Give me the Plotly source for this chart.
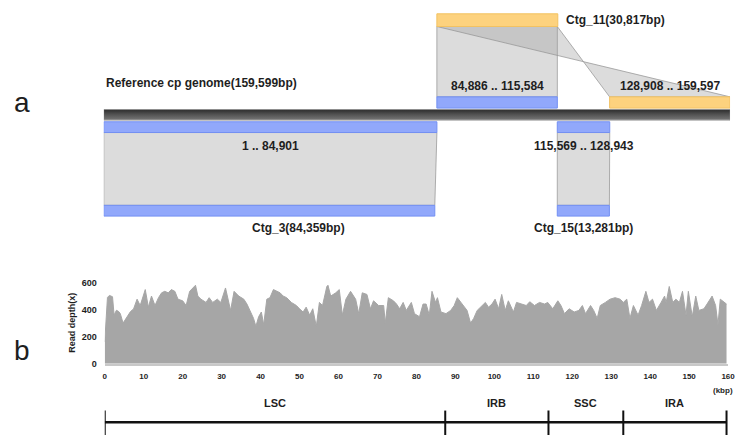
import plotly.graph_objects as go

# ---------------- data ----------------
GENOME_LEN = 159599
GENOME_LABEL = "Reference cp genome(159,599bp)"

contig_names = ["Ctg_3", "Ctg_11", "Ctg_15"]
contig_lengths = [84359, 30817, 13281]
contig_anchor = [1, 84886, 115569]          # reference position where the contig is drawn
contig_side = ["below", "above", "below"]

aln_contig = [0, 1, 1, 2]                    # index into contig lists
aln_ref_start = [1, 84886, 128908, 115569]
aln_ref_end = [84901, 115584, 159597, 128943]
aln_q_start = [1, 1, 1, 1]
aln_q_end = [84359, 30699, 30690, 13281]
aln_strand = ["+", "+", "-", "+"]

depth_kbp = [0, 0.3, 0.7, 1.2, 2.0, 2.4, 3.0, 3.6, 4.0, 4.7, 5.7, 6.6, 7.4, 8.3, 9.1, 10.4, 11.2, 12.0,
             12.9, 13.8, 14.6, 15.4, 16.3, 17.1, 18.0, 18.8, 20.0, 20.9, 21.8, 23.0, 23.3, 23.9, 24.7,
             26.0, 26.8, 27.7, 28.9, 29.8, 31.0, 32.3, 33.2, 34.4, 35.7, 36.5, 37.4, 38.2, 38.8, 39.5,
             40.2, 40.8, 41.6, 42.4, 43.3, 44.1, 45.0, 45.8, 46.7, 47.9, 49.2, 50.0, 50.9, 51.7, 52.6,
             53.4, 54.3, 55.1, 55.9, 57.0, 57.3, 58.0, 59.3, 60.2, 61.0, 61.9, 63.1, 64.4, 65.2, 66.1,
             67.3, 68.2, 69.0, 70.3, 71.6, 72.0, 72.8, 74.1, 74.9, 75.7, 76.6, 77.4, 78.7, 79.5, 80.8,
             81.7, 82.5, 83.3, 84.0, 84.9, 85.4, 86.3, 87.6, 88.8, 89.7, 90.5, 91.4, 92.2, 93.0, 93.9,
             94.7, 95.6, 96.8, 97.7, 98.5, 99.4, 100.2, 101.1, 101.9, 102.8, 103.6, 104.9, 105.7, 107.0,
             108.2, 109.1, 110.3, 111.6, 112.9, 113.7, 115.0, 116.3, 117.1, 118.0, 119.2, 120.5, 121.7,
             122.6, 123.4, 124.7, 125.5, 126.4, 127.2, 128.5, 129.7, 131.0, 132.3, 133.1, 134.0, 134.8,
             135.7, 136.9, 137.8, 138.9, 139.7, 140.6, 141.6, 142.8, 143.7, 144.1, 144.9, 145.8, 146.6,
             147.5, 148.3, 149.2, 149.8, 150.8, 151.7, 152.5, 153.8, 154.6, 155.9, 156.8, 157.4, 158.0,
             158.9, 159.6]
depth_x = [160, 290, 490, 505, 495, 360, 395, 385, 370, 300, 345, 385, 405, 477, 430, 548, 418, 500,
           430, 488, 524, 535, 524, 548, 535, 477, 465, 430, 535, 570, 580, 500, 477,
           453, 488, 453, 477, 453, 560, 394, 535, 500, 477, 441, 382, 335, 276, 347,
           382, 288, 477, 488, 548, 535, 524, 500, 488, 453, 430, 406, 382, 418, 359,
           406, 276, 453, 430, 570, 580, 500, 524, 548, 359, 477, 535, 477, 370, 524,
           512, 406, 465, 430, 430, 300, 488, 465, 441, 406, 453, 394, 453, 370, 347,
           441, 441, 359, 535, 453, 488, 382, 370, 394, 430, 488, 453, 430, 394, 300,
           335, 394, 430, 453, 418, 441, 477, 406, 512, 394, 465, 382, 453, 441,
           430, 458, 430, 453, 441, 453, 406, 465, 430, 370, 406, 382, 394,
           430, 370, 430, 394, 335, 430, 453, 477, 488, 477, 453, 477, 335,
           430, 359, 430, 535, 453, 477, 394, 453, 500, 453, 571, 453, 477,
           453, 535, 359, 535, 347, 500, 394, 406, 441, 500, 430, 288, 477,
           453, 441]

x_ticks = [0, 10, 20, 30, 40, 50, 60, 70, 80, 90, 100, 110, 120, 130, 140, 150, 160]
y_ticks = [0, 200, 400, 600]

region_names = ["LSC", "IRB", "SSC", "IRA"]
region_bounds_kbp = [0, 87.4, 113.9, 133.1, 159.6]

# ---------------- layout constants (pixel rows, colours) ----------------
W, H = 742, 440
FONT = "Liberation Sans, Arial, sans-serif"
TXT = "#1e1e1e"
BLUE, BLUE_EDGE = "#91a8fb", "#7390f2"
ORANGE, ORANGE_EDGE = "#fdd27e", "#f2c262"
LINK_FILL, LINK_EDGE = "rgba(160,160,160,0.37)", "rgba(150,150,150,0.75)"
LABEL_SIZE = 12

REF_ROW = (107, 118)
ROWS = {
    "above": dict(contig=(9, 22), aln=(94, 105.5), label_aln=83, label_ctg=15),
    "below": dict(contig=(205, 216), aln=(119.5, 130.5), label_aln=144, label_ctg=228),
}
CTG_LABEL_XSHIFT = {"Ctg_3": 29}


def px(x):
    return x / W


def py(y):
    return 1 - y / H


fig = go.Figure()
shapes = []
annotations = []

# contig colour: orange if any reverse alignment
contig_has_rev = [any(aln_strand[i] == "-" for i in range(len(aln_contig)) if aln_contig[i] == c)
                  for c in range(len(contig_names))]

# ---- links (gray polygons) ----
for i in range(len(aln_contig)):
    c = aln_contig[i]
    side = contig_side[c]
    rows = ROWS[side]
    cA = contig_anchor[c] + aln_q_start[i] - 1
    cB = contig_anchor[c] + aln_q_end[i] - 1
    rS, rE = aln_ref_start[i], aln_ref_end[i]
    if side == "above":
        y_ctg, y_ref = rows["contig"][1], rows["aln"][0]
    else:
        y_ctg, y_ref = rows["contig"][0], rows["aln"][1]
    if aln_strand[i] == "+":
        xs = [cA, cB, rE, rS, cA]
    else:
        xs = [cA, cB, rS, rE, cA]
    ys = [y_ctg, y_ctg, y_ref, y_ref, y_ctg]
    fig.add_trace(go.Scatter(x=xs, y=ys, mode="lines", fill="toself", fillcolor=LINK_FILL,
                             line=dict(color=LINK_EDGE, width=1), hoverinfo="skip",
                             showlegend=False, xaxis="x", yaxis="y"))

# ---- reference bar ----
fig.add_trace(go.Scatter(
    x=[0, GENOME_LEN, GENOME_LEN, 0, 0],
    y=[REF_ROW[0], REF_ROW[0], REF_ROW[1], REF_ROW[1], REF_ROW[0]],
    mode="lines", fill="toself",
    fillgradient=dict(type="vertical",
                      colorscale=[[0, "#a8a8a8"], [0.15, "#6e6e6e"], [0.6, "#4e4e4e"], [1, "#2c2c2c"]]),
    line=dict(width=0.5, color="#8a8a8a"), hoverinfo="skip", showlegend=False, xaxis="x", yaxis="y"))

annotations.append(dict(x=0, y=80, xref="x", yref="y", text="<b>" + GENOME_LABEL + "</b>",
                        showarrow=False, xanchor="left", yanchor="middle",
                        font=dict(family=FONT, size=LABEL_SIZE, color=TXT)))

# ---- aligned blocks on the reference ----
for i in range(len(aln_contig)):
    c = aln_contig[i]
    rows = ROWS[contig_side[c]]
    fill, edge = (BLUE, BLUE_EDGE) if aln_strand[i] == "+" else (ORANGE, ORANGE_EDGE)
    shapes.append(dict(type="rect", xref="x", yref="y", x0=aln_ref_start[i], x1=aln_ref_end[i],
                       y0=rows["aln"][0], y1=rows["aln"][1], fillcolor=fill,
                       line=dict(color=edge, width=1), layer="above"))
    annotations.append(dict(x=(aln_ref_start[i] + aln_ref_end[i]) / 2, y=rows["label_aln"],
                            xref="x", yref="y",
                            text="<b>%s .. %s</b>" % (format(aln_ref_start[i], ","), format(aln_ref_end[i], ",")),
                            showarrow=False, xanchor="center", yanchor="middle",
                            font=dict(family=FONT, size=LABEL_SIZE, color=TXT)))

# ---- contig bars ----
for c in range(len(contig_names)):
    rows = ROWS[contig_side[c]]
    fill, edge = (ORANGE, ORANGE_EDGE) if contig_has_rev[c] else (BLUE, BLUE_EDGE)
    x0 = contig_anchor[c]
    x1 = contig_anchor[c] + contig_lengths[c]
    shapes.append(dict(type="rect", xref="x", yref="y", x0=x0, x1=x1,
                       y0=rows["contig"][0], y1=rows["contig"][1], fillcolor=fill,
                       line=dict(color=edge, width=1), layer="above"))
    label = "<b>%s(%sbp)</b>" % (contig_names[c], format(contig_lengths[c], ","))
    if contig_side[c] == "above":
        annotations.append(dict(x=x1, y=rows["label_ctg"], xref="x", yref="y", text=label,
                                showarrow=False, xanchor="left", yanchor="middle", xshift=6,
                                font=dict(family=FONT, size=LABEL_SIZE, color=TXT)))
    else:
        annotations.append(dict(x=(x0 + x1) / 2, y=rows["label_ctg"], xref="x", yref="y", text=label,
                                showarrow=False, xanchor="center", yanchor="middle",
                                xshift=CTG_LABEL_XSHIFT.get(contig_names[c], 0),
                                font=dict(family=FONT, size=LABEL_SIZE, color=TXT)))

# ---- read depth ----
fig.add_trace(go.Scatter(x=depth_kbp, y=depth_x, mode="lines", fill="tozeroy",
                         fillcolor="#a6a6a6", line=dict(color="#a6a6a6", width=1),
                         hoverinfo="skip", showlegend=False, xaxis="x2", yaxis="y2"))

annotations.append(dict(x=px(70), y=py(325), xref="paper", yref="paper", text="<b>Read depth(x)</b>",
                        textangle=-90, showarrow=False, xanchor="center", yanchor="middle",
                        font=dict(family=FONT, size=9, color=TXT)))
annotations.append(dict(x=px(742), y=py(394), xref="paper", yref="paper", text="<b>(kbp)</b>",
                        showarrow=False, xanchor="right", yanchor="middle",
                        font=dict(family=FONT, size=8, color=TXT)))

# ---- genome regions ----
SEG_Y, SEG_TICK0, SEG_TICK1, SEG_LABEL_Y = 427, 415, 440, 407
shapes.append(dict(type="line", xref="x2", yref="y", x0=region_bounds_kbp[0], x1=region_bounds_kbp[-1],
                   y0=SEG_Y, y1=SEG_Y, line=dict(color="#111111", width=2.5)))
for b in region_bounds_kbp:
    shapes.append(dict(type="line", xref="x2", yref="y", x0=b, x1=b, y0=SEG_TICK0, y1=SEG_TICK1,
                       line=dict(color="#111111", width=2)))
for k, name in enumerate(region_names):
    annotations.append(dict(x=(region_bounds_kbp[k] + region_bounds_kbp[k + 1]) / 2, y=SEG_LABEL_Y,
                            xref="x2", yref="y", text="<b>%s</b>" % name, showarrow=False,
                            xanchor="center", yanchor="middle",
                            font=dict(family=FONT, size=11, color=TXT)))

# ---- panel letters ----
annotations.append(dict(x=px(20), y=py(100), xref="paper", yref="paper", text="a", showarrow=False,
                        xanchor="center", yanchor="middle", font=dict(family=FONT, size=28, color=TXT)))
annotations.append(dict(x=px(20), y=py(354), xref="paper", yref="paper", text="b", showarrow=False,
                        xanchor="center", yanchor="middle", font=dict(family=FONT, size=28, color=TXT)))

hidden = dict(visible=False, showgrid=False, zeroline=False)
fig.update_layout(
    width=W, height=H, autosize=False, margin=dict(l=0, r=0, t=0, b=0),
    paper_bgcolor="white", plot_bgcolor="rgba(0,0,0,0)",
    showlegend=False, hovermode=False,
    xaxis=dict(domain=[px(103), px(737)], range=[0, GENOME_LEN], anchor="y", **hidden),
    yaxis=dict(domain=[0, 1], range=[H, 0], anchor="x", **hidden),
    xaxis2=dict(domain=[px(104), px(735)], range=[0, 160], anchor="y2",
                tickvals=x_ticks, ticktext=["<b>%d</b>" % t for t in x_ticks],
                showgrid=False, zeroline=False, showline=True, linecolor="#c8c8c8", linewidth=2,
                ticks="", ticklabelstandoff=4, ticklabeloverflow="allow",
                tickfont=dict(family=FONT, size=8, color=TXT)),
    yaxis2=dict(domain=[py(367), py(284)], range=[0, 600], anchor="x2",
                tickvals=y_ticks, ticktext=["<b>%d</b>" % t for t in y_ticks],
                showgrid=False, zeroline=False, showline=False, ticks="", ticklabelstandoff=7,
                tickfont=dict(family=FONT, size=9, color=TXT)),
    shapes=shapes,
    annotations=annotations,
)

fig.write_html("out.html",
               config={"responsive": False, "displayModeBar": False, "staticPlot": True},
               post_script="document.body.style.margin='0';document.body.style.overflow='hidden';")
